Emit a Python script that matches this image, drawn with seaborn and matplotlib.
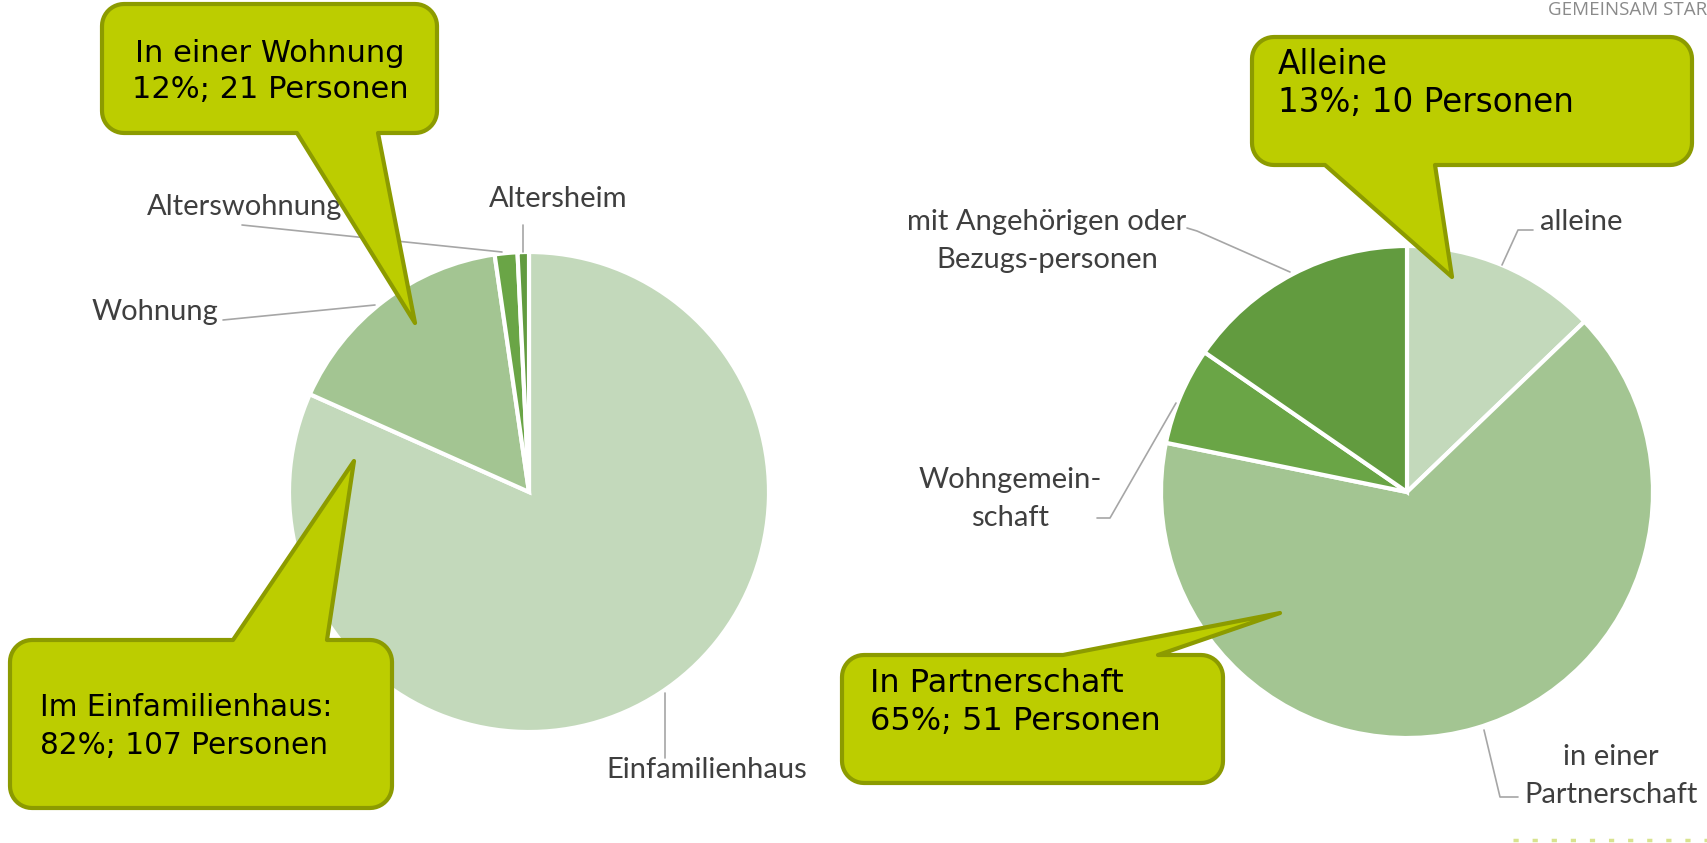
import numpy as np
import matplotlib
matplotlib.use("Agg")
import matplotlib.pyplot as plt
from matplotlib.patches import Polygon
import seaborn as sns

# left pie: Wohnsituation
wohnform = ["Einfamilienhaus", "Wohnung", "Alterswohnung", "Altersheim"]
wohnform_personen = [107, 21, 2, 1]

# right pie: Haushaltsform
haushalt = ["alleine", "in einer\nPartnerschaft", "Wohngemein-\nschaft", "mit Angehörigen oder\nBezugs-personen"]
haushalt_personen = [10, 51, 5, 12]

# callout texts
callouts_links = ["In einer Wohnung\n12%; 21 Personen", "Im Einfamilienhaus:\n82%; 107 Personen"]
callouts_rechts = ["Alleine\n13%; 10 Personen", "In Partnerschaft\n65%; 51 Personen"]

gruen = ["#c3d9bb", "#a3c592", "#6aa546", "#629b3f"]
box_fill = "#bccd00"
box_edge = "#8c9b00"
label_col = "#3f3f3f"
leader_col = "#a6a6a6"

sns.set_theme(style="white")
plt.rcParams["font.family"] = ["DejaVu Sans"]

W, H = 1707, 843
fig = plt.figure(figsize=(W / 100, H / 100), dpi=100)
ax = fig.add_axes([0, 0, 1, 1])

# pies (y axis is inverted below, so counterclock=True draws clockwise from 12 o'clock)
ax.pie(wohnform_personen, colors=gruen, center=(529, 492), radius=240,
       startangle=-90, counterclock=True,
       wedgeprops=dict(edgecolor="white", linewidth=3))
ax.pie(haushalt_personen, colors=gruen, center=(1407, 492), radius=246,
       startangle=-90, counterclock=True,
       wedgeprops=dict(edgecolor="white", linewidth=3))

ax.set_xlim(0, W)
ax.set_ylim(H, 0)
ax.set_aspect("equal")
ax.axis("off")


def label(text, x, y, ha="center", gap=38):
    lines = text.split("\n")
    for i, line in enumerate(lines):
        ax.text(x, y + i * gap, line, ha=ha, va="center", fontsize=21,
                color=label_col, family=["Lato", "DejaVu Sans"])


def leader(pts):
    pts = np.array(pts)
    ax.plot(pts[:, 0], pts[:, 1], color=leader_col, lw=1.2, solid_joinstyle="round")


# pie labels + leader lines
label(wohnform[0], 707, 770)
leader([(665, 693), (665, 758)])
label(wohnform[1], 155, 312)
leader([(223, 320), (375, 305)])
label(wohnform[2], 245, 207)
leader([(242, 225), (502, 252)])
label(wohnform[3], 558, 199)
leader([(523, 225), (523, 252)])

label(haushalt[0], 1540, 222, ha="left")
leader([(1533, 230), (1518, 230), (1502, 265)])
label(haushalt[1], 1611, 757)
leader([(1484, 730), (1500, 797), (1518, 797)])
label(haushalt[2], 1010, 480)
leader([(1097, 518), (1110, 518), (1176, 403)])
label(haushalt[3], 1047, 222)
leader([(1187, 228), (1197, 231), (1290, 272)])


def callout(x0, y0, x1, y1, side, ba, bb, tip, r=22):
    def arc(cx, cy, a0, a1):
        a = np.radians(np.linspace(a0, a1, 12))
        return list(zip(cx + r * np.cos(a), cy + r * np.sin(a)))

    pts = [(x0 + r, y0)]
    if side == "top":
        pts += [(ba, y0), tip, (bb, y0)]
    pts += arc(x1 - r, y0 + r, -90, 0)
    pts += arc(x1 - r, y1 - r, 0, 90)
    if side == "bottom":
        pts += [(bb, y1), tip, (ba, y1)]
    pts += arc(x0 + r, y1 - r, 90, 180)
    pts += arc(x0 + r, y0 + r, 180, 270)
    ax.add_patch(Polygon(pts, closed=True, facecolor=box_fill, edgecolor=box_edge,
                         linewidth=3, joinstyle="round", zorder=6))


def box_text(text, x, y, ha, size, gap=36):
    for i, line in enumerate(text.split("\n")):
        ax.text(x, y + i * gap, line, ha=ha, va="center", fontsize=size,
                color="black", zorder=7)


callout(102, 4, 437, 133, "bottom", 297, 378, (415, 323))
box_text(callouts_links[0], 270, 53, "center", 22)

callout(10, 640, 392, 808, "top", 233, 327, (354, 461))
box_text(callouts_links[1], 40, 708, "left", 21.3, gap=37)

callout(1252, 37, 1692, 165, "bottom", 1325, 1435, (1452, 277))
box_text(callouts_rechts[0], 1278, 65, "left", 23.5, gap=37)

callout(842, 655, 1223, 783, "top", 1063, 1158, (1280, 613))
box_text(callouts_rechts[1], 870, 683, "left", 23, gap=39)

# page decoration from the slide (cut off at the right edge as in the original)
ax.text(1548, 10, "GEMEINSAM STARK", ha="left", va="center", fontsize=13.5,
        color="#8a8a8a", family=["Open Sans", "DejaVu Sans"])
ax.plot([1513, 1707], [840, 840], color="#d8e38f", lw=2.5, ls=(0, (1.5, 4)))

fig.savefig("out.png", dpi=100)
